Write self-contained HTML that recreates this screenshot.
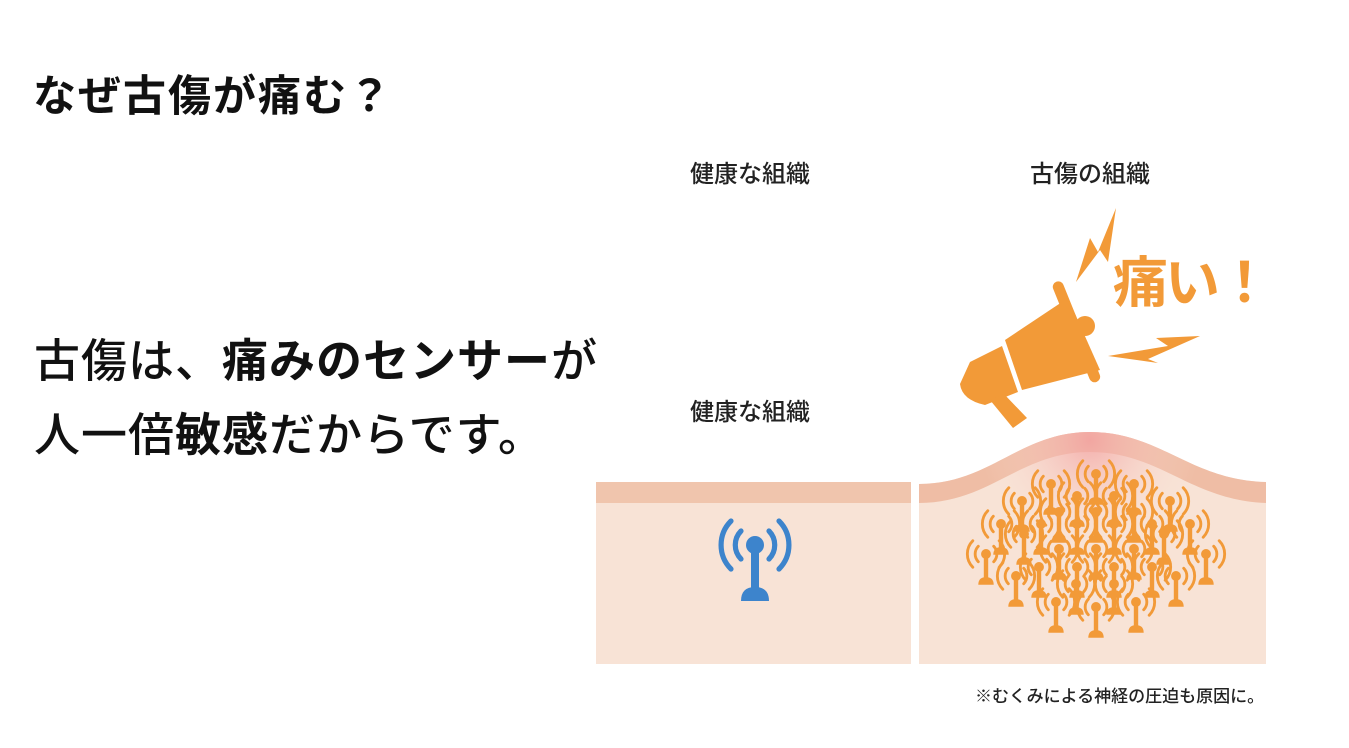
<!DOCTYPE html>
<html><head><meta charset="utf-8"><style>
html,body{margin:0;padding:0;background:#fff;}
body{width:1349px;height:748px;overflow:hidden;position:relative;font-family:"Liberation Sans","Noto Sans CJK JP",sans-serif;}
.t{position:absolute;white-space:nowrap;color:#111;}
</style></head><body>
<div class="t" style="left:33px;top:62px;font-size:43px;font-weight:bold;letter-spacing:2px;">なぜ古傷が痛む？</div>
<div class="t" style="left:34px;top:325px;font-size:46px;letter-spacing:1px;font-weight:500;">古傷は、<b>痛みのセンサー</b>が</div>
<div class="t" style="left:34px;top:399px;font-size:46px;letter-spacing:1px;font-weight:500;">人一倍<b>敏感</b>だからです。</div>
<div class="t" style="left:690px;top:154px;font-size:24px;color:#222;font-weight:500;">健康な組織</div>
<div class="t" style="left:1030px;top:154px;font-size:24px;color:#222;font-weight:500;">古傷の組織</div>
<div class="t" style="left:690px;top:392px;font-size:24px;color:#222;font-weight:500;">健康な組織</div>
<div class="t" style="left:975px;top:682px;font-size:17px;color:#222;font-weight:500;">※むくみによる神経の圧迫も原因に。</div>
<div class="t" style="left:1113px;top:238px;font-size:55px;font-weight:bold;color:#f29a38;letter-spacing:-3px;">痛い！</div>
<svg width="1349" height="748" style="position:absolute;left:0;top:0" xmlns="http://www.w3.org/2000/svg">
<defs>
<radialGradient id="rg" cx="1090" cy="440" r="110" gradientUnits="userSpaceOnUse">
<stop offset="0" stop-color="#f3a0a0" stop-opacity="0.8"/><stop offset="1" stop-color="#f8e2d5" stop-opacity="0"/></radialGradient>
<clipPath id="cp"><path d="M919,484 C990,484 1020,432 1090,432 C1160,432 1190,480 1266,482 L1266,664 L919,664Z"/></clipPath>
<symbol id="ant" viewBox="-20 -20 40 50" overflow="visible">
<g fill="none" stroke-width="2.6" stroke-linecap="round">
<path d="M-7,-7 A10,10 0 0 0 -7,7 M7,-7 A10,10 0 0 1 7,7 M-12,-12 A17,17 0 0 0 -12,12 M12,-12 A17,17 0 0 1 12,12"/></g>
<circle cx="0" cy="0" r="4.5" stroke="none"/><rect x="-2" y="0" width="4" height="22" stroke="none"/><path d="M-7,28 Q-7,21 0,21 Q7,21 7,28Z" stroke="none"/>
</symbol>
</defs>
<rect x="596" y="482" width="315" height="182" fill="#f8e3d6"/>
<rect x="596" y="482" width="315" height="21" fill="#f0c5ad"/>
<g fill="#3d84cc" stroke="#3d84cc"><use href="#ant" x="715" y="505" width="80" height="100"/></g>
<path d="M919,484 C990,484 1020,432 1090,432 C1160,432 1190,480 1266,482 L1266,664 L919,664Z" fill="#f8e3d6"/>
<path d="M919,484 C990,484 1020,432 1090,432 C1160,432 1190,480 1266,482 L1266,503 C1190,500 1160,452 1090,452 C1020,452 990,503 919,503Z" fill="#efbda5"/>
<rect x="919" y="420" width="347" height="150" fill="url(#rg)" clip-path="url(#cp)"/>
<g fill="#f29a38" stroke="#f29a38" transform="translate(4,4)">
<use href="#ant" x="1070" y="448" width="44" height="55"/>
<use href="#ant" x="1025" y="458" width="44" height="55"/><use href="#ant" x="1108" y="458" width="44" height="55"/>
<use href="#ant" x="1051" y="470" width="44" height="55"/><use href="#ant" x="1088" y="470" width="44" height="55"/>
<use href="#ant" x="996" y="475" width="44" height="55"/><use href="#ant" x="1144" y="475" width="44" height="55"/>
<use href="#ant" x="1033" y="486" width="44" height="55"/><use href="#ant" x="1070" y="486" width="44" height="55"/><use href="#ant" x="1108" y="486" width="44" height="55"/>
<use href="#ant" x="975" y="498" width="44" height="55"/><use href="#ant" x="1015" y="498" width="44" height="55"/><use href="#ant" x="1051" y="498" width="44" height="55"/><use href="#ant" x="1088" y="498" width="44" height="55"/><use href="#ant" x="1126" y="498" width="44" height="55"/><use href="#ant" x="1164" y="498" width="44" height="55"/>
<use href="#ant" x="998" y="508" width="44" height="55"/><use href="#ant" x="1138" y="508" width="44" height="55"/>
<use href="#ant" x="1033" y="523" width="44" height="55"/><use href="#ant" x="1070" y="523" width="44" height="55"/><use href="#ant" x="1108" y="523" width="44" height="55"/>
<use href="#ant" x="960" y="528" width="44" height="55"/><use href="#ant" x="1180" y="528" width="44" height="55"/>
<use href="#ant" x="1013" y="541" width="44" height="55"/><use href="#ant" x="1051" y="541" width="44" height="55"/><use href="#ant" x="1088" y="541" width="44" height="55"/><use href="#ant" x="1126" y="541" width="44" height="55"/>
<use href="#ant" x="990" y="550" width="44" height="55"/><use href="#ant" x="1150" y="550" width="44" height="55"/>
<use href="#ant" x="1050" y="558" width="44" height="55"/><use href="#ant" x="1088" y="558" width="44" height="55"/>
<use href="#ant" x="1030" y="576" width="44" height="55"/><use href="#ant" x="1070" y="581" width="44" height="55"/><use href="#ant" x="1110" y="576" width="44" height="55"/>
</g>
<g fill="#f29a38">
<path d="M1005,340 L1068,298 L1100,370 L1022,390Z"/>
<rect x="1071" y="278" width="11" height="108" rx="5.5" transform="rotate(-22 1076 332)"/>
<circle cx="1085" cy="326" r="10"/>
<path d="M970,362 L1002,346 L1018,392 L985,405 Q962,400 960,384Z"/>
<path d="M990,400 L1004,394 L1027,418 L1013,428Z"/>
<path d="M1076,282 L1090,238 L1098,252 L1116,208 L1108,262 L1100,250 Z"/>
<path d="M1108,356 L1168,346 L1156,338 L1200,336 L1148,359 L1158,363 Z"/>
</g>
</svg>
</body></html>
